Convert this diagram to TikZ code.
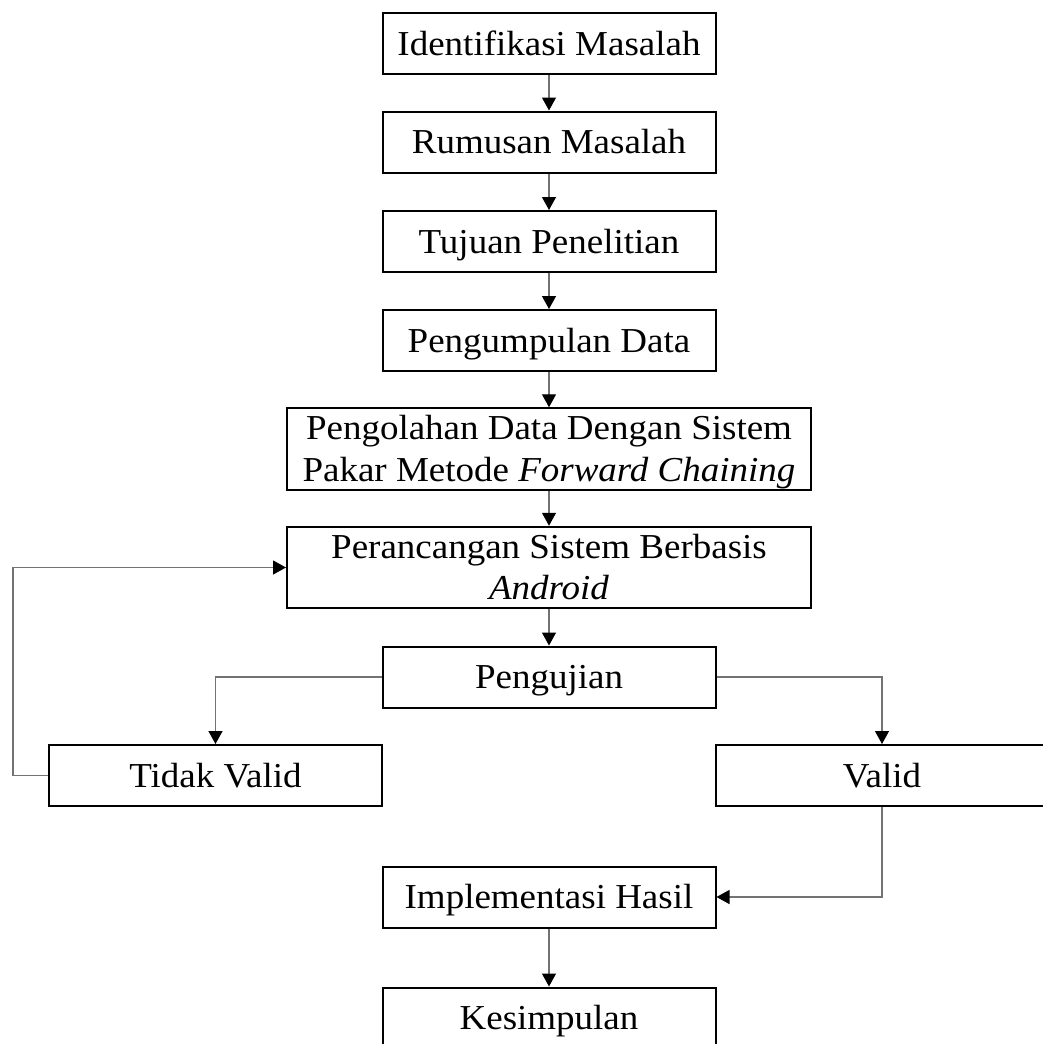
\documentclass[tikz,border=0pt]{standalone}
\usepackage{fontspec}
\setmainfont{Liberation Serif}[FakeStretch=1.057]
\usetikzlibrary{arrows.meta}
% fixed-height strut (height 31.5pt, depth 8.5pt) so every line sits alike
\newcommand\linestrut{\rule[-8.5pt]{0pt}{40pt}}
\begin{document}
\begin{tikzpicture}[x=1pt,y=-1pt,
  stepbox/.style={draw=black,line width=2pt,rectangle,inner sep=0pt,
    minimum width=333pt,minimum height=61pt,align=center,
    font=\fontsize{35}{41.5}\selectfont},
  widebox/.style={stepbox,minimum width=524pt,minimum height=80pt},
  link/.style={draw=black!55,line width=1.3pt,
    -{Triangle[length=13pt,width=14pt,color=black]}}]
  \useasboundingbox (0,0) rectangle (1043,1044);
  \fill[white] (0,0) rectangle (1043,1044);
  \clip (0,0) rectangle (1043,1044);

  % main column
  \node[stepbox] (b1) at (549,43.5) {\linestrut Identifikasi Masalah};
  \node[stepbox] (b2) at (549,142) {\linestrut Rumusan Masalah};
  \node[stepbox] (b3) at (549,241.5) {\linestrut Tujuan Penelitian};
  \node[stepbox] (b4) at (549,340.5) {\linestrut Pengumpulan Data};
  \node[widebox] (b5) at (549,449)
    {\linestrut Pengolahan Data Dengan Sistem\\\linestrut Pakar Metode \textit{Forward Chaining}};
  \node[widebox] (b6) at (549,567.5)
    {\linestrut Perancangan Sistem Berbasis\\\linestrut\textit{Android}};
  \node[stepbox] (b7) at (549,677) {\linestrut Pengujian};

  % test outcomes
  \node[stepbox] (b8) at (215.5,775.5) {\linestrut Tidak Valid};
  \node[stepbox] (b9) at (882,775.5) {\linestrut Valid};

  \node[stepbox] (b10) at (549,897) {\linestrut Implementasi Hasil};
  \node[stepbox] (b11) at (549,1018) {\linestrut Kesimpulan};

  \coordinate (loopx) at (13,0);

  % connectors
  \draw[link] (b1) -- (b2);
  \draw[link] (b2) -- (b3);
  \draw[link] (b3) -- (b4);
  \draw[link] (b4) -- (b5);
  \draw[link] (b5) -- (b6);
  \draw[link] (b6) -- (b7);
  \draw[link] (b7.west) -| (b8.north);
  \draw[link] (b7.east) -| (b9.north);
  \draw[link] (b9.south) |- (b10.east);
  \draw[link] (b8.west) -- (b8.west -| loopx) |- (b6.west);
  \draw[link] (b10) -- (b11);
\end{tikzpicture}
\end{document}
